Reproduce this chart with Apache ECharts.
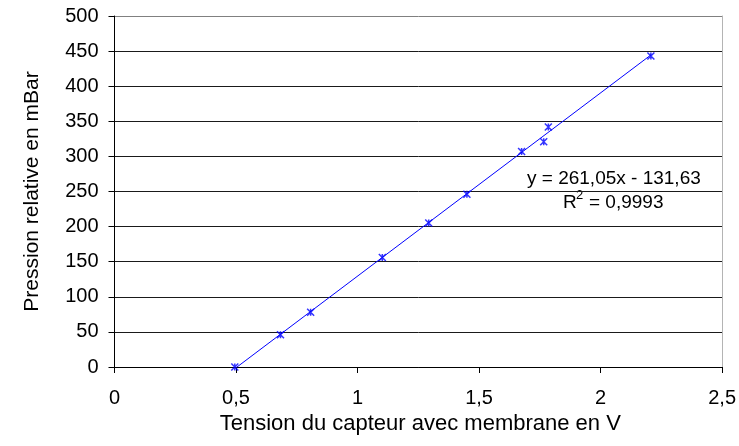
<!DOCTYPE html>
<html>
<head>
<meta charset="utf-8">
<script src="https://cdn.jsdelivr.net/npm/echarts@6/dist/echarts.min.js"></script>
<style>html,body{margin:0;padding:0;background:#fff}#c{width:739px;height:446px}</style>
</head>
<body>
<div id="c"></div>
<script>
// Data
const tension = [0.495, 0.683, 0.807, 1.102, 1.293, 1.450, 1.675, 1.766, 1.785, 2.207];
const pression = [0, 46, 78, 156, 205, 246, 307, 321, 342, 443];
const trendX = [0.495, 2.207];
const trendY = [-2.4, 444.5];
const eqText = 'y = 261,05x - 131,63';
const r2Value = '0,9993';
const xTitle = 'Tension du capteur avec membrane en V';
const yTitle = 'Pression relative en mBar';

const font = 'Liberation Sans, Arial, sans-serif';
const chart = echarts.init(document.getElementById('c'), null, {renderer: 'canvas'});

const splitColors = [];
for (let i = 0; i <= 10; i++) splitColors.push(i === 10 ? '#808080' : '#1a1a1a');

chart.setOption({
  animation: false,
  backgroundColor: '#ffffff',
  grid: {left: 114.5, right: 16, top: 16, bottom: 79, containLabel: false},
  xAxis: {
    type: 'value', min: 0, max: 2.5, interval: 0.5,
    name: xTitle, nameLocation: 'middle', nameGap: 41,
    nameTextStyle: {fontFamily: font, fontSize: 22, color: '#000', padding: [0, 0, 0, 4]},
    axisLine: {show: true, onZero: false, lineStyle: {color: '#000', width: 1}},
    axisTick: {show: true, inside: false, length: 6, lineStyle: {color: '#000'}},
    axisLabel: {margin: 21, fontFamily: font, fontSize: 20, color: '#000',
      formatter: v => String(v).replace('.', ',')},
    splitLine: {show: false}
  },
  yAxis: [{
    type: 'value', min: 0, max: 500, interval: 50,
    name: yTitle, nameLocation: 'middle', nameGap: 72, nameRotate: 90,
    nameTextStyle: {fontFamily: font, fontSize: 21, color: '#000'},
    axisLine: {show: true, lineStyle: {color: '#000', width: 1}},
    axisTick: {show: true, inside: false, length: 6, lineStyle: {color: '#000'}},
    axisLabel: {margin: 16, fontFamily: font, fontSize: 20, color: '#000'},
    splitLine: {show: true, lineStyle: {color: splitColors, width: 1}}
  }, {
    type: 'value', min: 0, max: 500, interval: 50, position: 'right',
    axisLine: {show: true, lineStyle: {color: '#b4b4b4', width: 1}},
    axisTick: {show: false}, axisLabel: {show: false}, splitLine: {show: false}
  }],
  series: [{
    type: 'line',
    data: trendX.map((x, i) => [x, trendY[i]]),
    showSymbol: false, symbol: 'none',
    lineStyle: {color: '#0000ff', width: 1},
    z: 2
  }, {
    type: 'scatter',
    data: tension.map((x, i) => [x, pression[i]]),
    symbol: 'path://M0,0L8,8M8,0L0,8M4,0L4,8',
    symbolSize: 7,
    itemStyle: {color: 'rgba(0,0,0,0)', borderColor: '#0000ff', borderWidth: 1.5},
    z: 3
  }],
  graphic: [{
    type: 'text', left: 527, top: 169,
    style: {text: eqText, fontFamily: font, fontSize: 19, fill: '#000'}
  }, {
    type: 'text', left: 563, top: 193,
    style: {text: 'R', fontFamily: font, fontSize: 19, fill: '#000'}
  }, {
    type: 'text', left: 576, top: 189,
    style: {text: '2', fontFamily: font, fontSize: 13, fill: '#000'}
  }, {
    type: 'text', left: 589, top: 193,
    style: {text: '= ' + r2Value, fontFamily: font, fontSize: 19, fill: '#000'}
  }]
});
</script>
</body>
</html>
